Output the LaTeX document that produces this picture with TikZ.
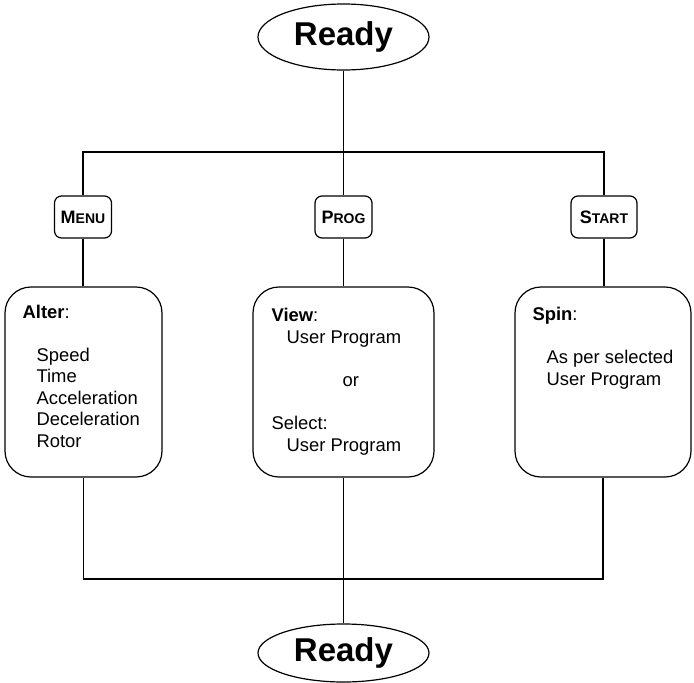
\documentclass[tikz,border=0pt]{standalone}
\usepackage{fontspec}
\setmainfont{Liberation Sans}
\usetikzlibrary{shapes.geometric}
\begin{document}
\begin{tikzpicture}[x=1pt,y=-1pt, line width=1.2pt,
  ready/.style={ellipse, draw, minimum width=171pt, minimum height=66pt, inner sep=0pt, font=\fontsize{33}{33}\selectfont\bfseries},
  btn/.style={draw, rounded corners=7pt, minimum width=57pt, minimum height=42pt, inner sep=0pt, font=\bfseries},
  panel/.style={draw, rounded corners=26pt, minimum height=190pt, inner sep=0pt},
  txt/.style={anchor=base west, inner sep=0pt, font=\fontsize{18.4}{21.5}\selectfont},
]
\useasboundingbox (0,0) rectangle (694,683);
\newcommand{\bigc}[1]{{\fontsize{18}{18}\selectfont #1}}
\newcommand{\smc}[1]{{\fontsize{14}{14}\selectfont #1}}
\node[ready] (r1) at (343.5,37) {Ready};
\node[btn] (menu) at (83,217) {\bigc{M}\smc{ENU}};
\node[btn] (prog) at (343.5,217) {\bigc{P}\smc{ROG}};
\node[btn, minimum width=66pt] (start) at (604,217) {\bigc{S}\smc{TART}};
\node[panel, minimum width=157pt] (alter) at (83.5,382) {};
\node[panel, minimum width=181pt] (view) at (343.5,382) {};
\node[panel, minimum width=176pt] (spin) at (603,382) {};
\node[ready, minimum height=58pt] (r2) at (343.5,653) {Ready};
\coordinate (bus) at (0,152);
\coordinate (bus2) at (0,579);
\draw (r1.south) -- (r1.south |- bus);
\draw (menu.north) -- (menu.north |- bus) -- (start.north |- bus) -- (start.north);
\draw (prog.north) -- (prog.north |- bus);
\draw (menu.south) -- (menu.south |- alter.north);
\draw (prog.south) -- (prog.south |- view.north);
\draw (start.south) -- (start.south |- spin.north);
\draw (alter.south) -- (alter.south |- bus2) -- (spin.south |- bus2) -- (spin.south);
\draw (view.south) -- (r2.north);
% texts
\node[txt] (a0) at (22,318) {\textbf{Alter}:};
\node[txt] (a1) at (36,361) {Speed};
\node[txt] (a2) at (36,382.5) {Time};
\node[txt] (a3) at (36,404) {Acceleration};
\node[txt] (a4) at (36,425.5) {Deceleration};
\node[txt] (a5) at (36,447) {Rotor};
\node[txt] (v0) at (271,321) {\textbf{View}:};
\node[txt] (v1) at (286,343) {User Program};
\node[txt] (v2) at (342,386) {or};
\node[txt] (v3) at (271,429) {Select:};
\node[txt] (v4) at (286,451) {User Program};
\node[txt] (s0) at (532,320) {\textbf{Spin}:};
\node[txt] (s1) at (546,363) {As per selected};
\node[txt] (s2) at (546,385) {User Program};
\end{tikzpicture}
\end{document}
